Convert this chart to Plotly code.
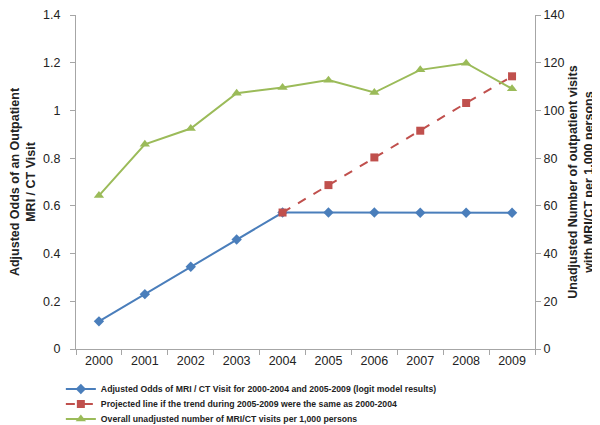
import plotly.graph_objects as go

years = ["2000", "2001", "2002", "2003", "2004", "2005", "2006", "2007", "2008", "2009"]
adjusted_odds = [0.116, 0.230, 0.345, 0.459, 0.572, 0.572, 0.572, 0.571, 0.571, 0.571]
proj_years = ["2004", "2005", "2006", "2007", "2008", "2009"]
projected_odds = [0.572, 0.687, 0.803, 0.915, 1.031, 1.143]
unadjusted_visits = [64.3, 85.8, 92.4, 107.2, 109.6, 112.7, 107.5, 117.0, 119.8, 109.1]

name_blue = "Adjusted Odds of MRI / CT Visit for 2000-2004 and 2005-2009 (logit model results)"
name_red = "Projected line if the trend during 2005-2009 were the same as 2000-2004"
name_green = "Overall unadjusted number of MRI/CT visits per 1,000 persons"

fig = go.Figure()
fig.add_trace(go.Scatter(
    x=years, y=adjusted_odds, name="<b>" + name_blue + "</b>", mode="lines+markers",
    line=dict(color="#4A7EBB", width=2),
    marker=dict(symbol="diamond", size=8, color="#4A7EBB"),
    legend="legend",
))
fig.add_trace(go.Scatter(
    x=proj_years, y=projected_odds, name="<b>" + name_red + "</b>", mode="lines+markers",
    line=dict(color="#C0504D", width=2, dash="dash"),
    marker=dict(symbol="square", size=8, color="#C0504D"),
    legend="legend2",
))
fig.add_trace(go.Scatter(
    x=years, y=unadjusted_visits, name="<b>" + name_green + "</b>", mode="lines+markers",
    line=dict(color="#9BBB59", width=2),
    marker=dict(symbol="triangle-up", size=9, color="#9BBB59"),
    yaxis="y2", legend="legend3",
))

def axis_style():
    return dict(showline=True, linecolor="#A6A6A6", linewidth=1, ticks="outside",
                tickcolor="#A6A6A6", ticklen=5, showgrid=False, zeroline=False)

def legend_style(ypos):
    return dict(x=-0.033, y=ypos, xanchor="left", yanchor="middle", itemwidth=30,
                font=dict(size=8.7, family="Liberation Sans, Arial, sans-serif", color="#222"),
                bgcolor="rgba(0,0,0,0)")

fig.update_layout(
    width=600, height=425,
    paper_bgcolor="white", plot_bgcolor="white",
    margin=dict(l=68, r=73, t=7, b=84, autoexpand=False),
    font=dict(family="Liberation Sans, Arial, sans-serif", size=12.5, color="#222"),
    xaxis=dict(type="category", categoryorder="array", categoryarray=years,
               range=[-0.5, 9.5], tickson="boundaries", automargin=False,
               tickfont=dict(size=12.5), **axis_style()),
    yaxis=dict(range=[0, 1.4], dtick=0.2, tickformat="~g", automargin=False,
               ticklabelstandoff=7,
               title=dict(text="<b>Adjusted Odds of an Outpatient<br>MRI / CT Visit</b>",
                          font=dict(size=12.5), standoff=11), **axis_style()),
    yaxis2=dict(range=[0, 140], dtick=20, overlaying="y", side="right", automargin=False,
                title=dict(text="<b>Unadjusted Number of outpatient visits<br>with MRI/CT per 1,000 persons</b>",
                           font=dict(size=12.5), standoff=4), **axis_style()),
    legend=legend_style(-0.1197),
    legend2=legend_style(-0.1646),
    legend3=legend_style(-0.2095),
    showlegend=True,
)

fig.write_html("out.html")
